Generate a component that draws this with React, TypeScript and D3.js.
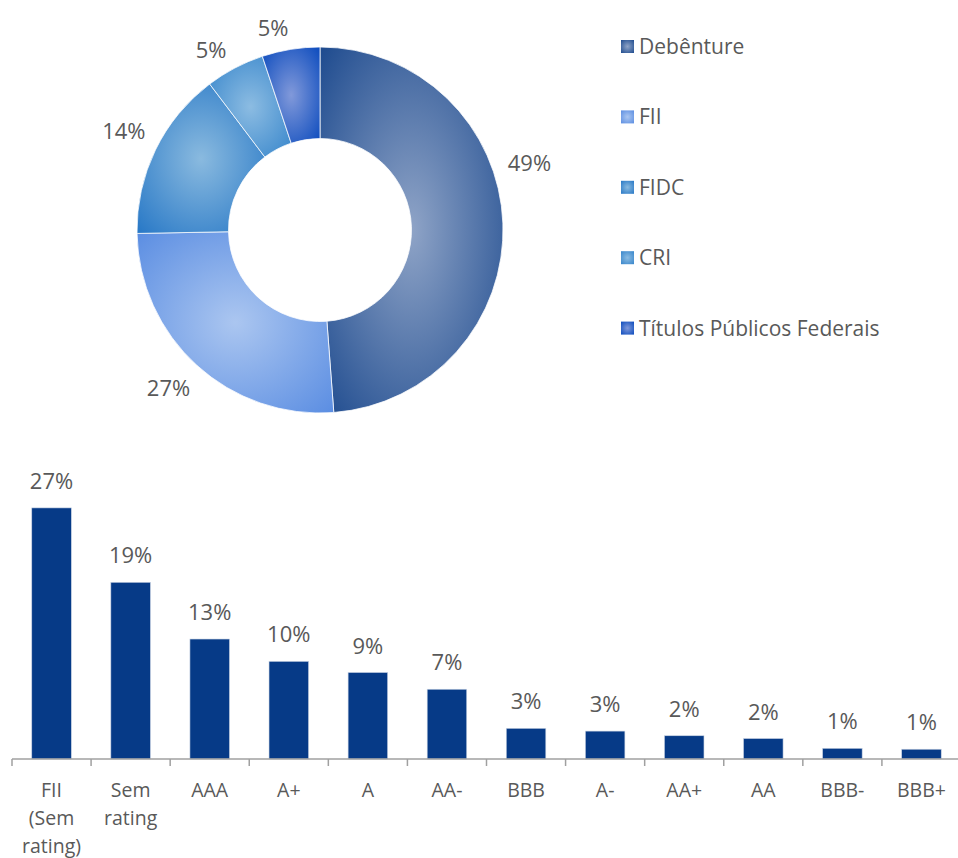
import React from "react";
import * as d3 from "d3";

// ---------- DATA ----------
const pieNames = ["Debênture", "FII", "FIDC", "CRI", "Títulos Públicos Federais"];
const pieValues = [48.8, 25.9, 15.0, 5.2, 5.1];
const pieLabels = ["49%", "27%", "14%", "5%", "5%"];

const barCategories = ["FII (Sem rating)", "Sem rating", "AAA", "A+", "A", "AA-", "BBB", "A-", "AA+", "AA", "BBB-", "BBB+"];
const barValues = [27, 19, 12.9, 10.5, 9.3, 7.5, 3.3, 3.0, 2.5, 2.2, 1.15, 1.05];
const barLabels = ["27%", "19%", "13%", "10%", "9%", "7%", "3%", "3%", "2%", "2%", "1%", "1%"];

// ---------- STYLE ----------
const gradientStops: [string, string][] = [
  ["#8fa4c7", "#1d4a8e"],
  ["#abc6f0", "#5a8de2"],
  ["#8abadf", "#2677c6"],
  ["#8cbce2", "#3685cb"],
  ["#8199da", "#0a4abd"],
];
const labelAngleOverride: (number | null)[] = [72, 224, 297, 329, 347];
const textColor = "#595959";
const barColor = "#063a87";
const FONT = "'Open Sans', Lato, sans-serif";
const WEIGHT = 400;

export default function App() {
  const W = 958, H = 858;
  const cx = 320, cy = 230, rOuter = 183, rInner = 91.5;

  const pie = d3.pie<number>().sort(null).value((d) => d);
  const arcs = pie(pieValues);
  const arcGen = d3.arc<d3.PieArcDatum<number>>().innerRadius(rInner).outerRadius(rOuter);

  const pieFont = 22;
  const r0 = 196;
  const pieLabelPos = arcs.map((a, i) => {
    const angDeg = labelAngleOverride[i] ?? ((a.startAngle + a.endAngle) / 2) * 180 / Math.PI;
    const ang = angDeg * Math.PI / 180;
    const s = Math.sin(ang), c = Math.cos(ang);
    const halfW = pieLabels[i].length * 7.5;
    const halfH = 9;
    const r = r0 + halfW * Math.abs(s) + halfH * Math.abs(c);
    return [cx + r * s, cy - r * c];
  });

  // bars
  const baseY = 759;
  const x = d3.scaleBand<string>().domain(barCategories).range([12, 961]).paddingInner(0.5).paddingOuter(0.25);
  const y = d3.scaleLinear().domain([0, 30]).range([baseY, baseY - 279]);
  const step = x.step();

  return (
    <svg width={W} height={H} style={{ position: "absolute", left: 0, top: 0, background: "#fff" }} fontFamily={FONT} fontWeight={WEIGHT}>
      <defs>
        {gradientStops.map(([c0, c1], i) => (
          <radialGradient key={i} id={`g${i}`} cx="0.5" cy="0.5" r="0.71" gradientUnits="objectBoundingBox">
            <stop offset="0" stopColor={c0} />
            <stop offset="1" stopColor={c1} />
          </radialGradient>
        ))}
      </defs>

      {/* donut */}
      <g transform={`translate(${cx},${cy})`}>
        {arcs.map((a, i) => (
          <path key={i} d={arcGen(a) || ""} fill={`url(#g${i})`} stroke="#ffffff" strokeWidth={0.75} />
        ))}
      </g>
      {pieLabels.map((t, i) => (
        <text key={i} x={pieLabelPos[i][0]} y={pieLabelPos[i][1]} textAnchor="middle" dominantBaseline="central" fontSize={pieFont} fill={textColor}>
          {t}
        </text>
      ))}

      {/* legend */}
      {pieNames.map((n, i) => {
        const yc = 46.5 + i * 70.4;
        return (
          <g key={n}>
            <rect x={621} y={yc - 6.5} width={13} height={13} fill={`url(#g${i})`} />
            <text x={639} y={yc + 7.5} fontSize={21} fill={textColor}>{n}</text>
          </g>
        );
      })}

      {/* bars */}
      {barCategories.map((c, i) => (
        <rect key={c} x={x(c)!} y={y(barValues[i])} width={x.bandwidth()} height={baseY - y(barValues[i])} fill={barColor} stroke="#c9d3e3" strokeWidth={0.6} />
      ))}
      {barCategories.map((c, i) => (
        <text key={c} x={x(c)! + x.bandwidth() / 2} y={y(barValues[i]) - 19} textAnchor="middle" fontSize={pieFont} fill={textColor}>
          {barLabels[i]}
        </text>
      ))}
      {/* axis */}
      <line x1={12} x2={W} y1={baseY} y2={baseY} stroke="#a0a0a0" strokeWidth={1.5} />
      {barCategories.map((c, i) => {
        const tx = 12 + i * step;
        return <line key={c} x1={tx} x2={tx} y1={baseY} y2={baseY + 7} stroke="#a0a0a0" strokeWidth={1.5} />;
      })}
      {barCategories.map((c) => {
        const lines = c.split(" ");
        const xc = x(c)! + x.bandwidth() / 2;
        return (
          <text key={c} x={xc} y={797} textAnchor="middle" fontSize={19.5} fill={textColor}>
            {lines.map((l, j) => (
              <tspan key={j} x={xc} dy={j === 0 ? 0 : 28}>{l}</tspan>
            ))}
          </text>
        );
      })}
    </svg>
  );
}
